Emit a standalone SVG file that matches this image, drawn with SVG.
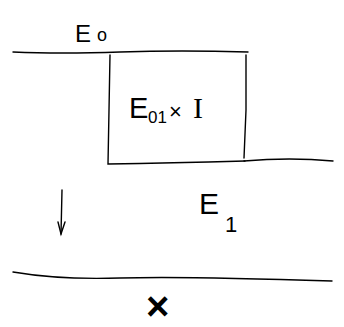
<svg xmlns="http://www.w3.org/2000/svg" width="344" height="327" viewBox="0 0 344 327">
<style>
.ln{fill:none;stroke:#000;stroke-width:1.4;stroke-linecap:round}
.t{font-family:"Liberation Sans","DejaVu Sans",sans-serif;fill:#000000;stroke:none}
</style>
<rect width="344" height="327" fill="#fff"/>
<g id="E0">
<path class="ln" d="M13 52 Q60 54 120 52 T248 52"/>
<text class="t" x="75" y="42" font-size="24" fill="#000">E<tspan x="97" font-size="18" dy="-1">o</tspan></text>
</g>
<g id="E01xI">
<path class="ln" d="M110 55 L109 110 L108 164 Q170 163 245 161"/>
<path class="ln" d="M246 55 L246 110 L244 158"/>
<path class="ln" d="M244 161 Q290 157 333 161"/>
<text class="t" x="129" y="118" font-size="29" fill="#000">E<tspan x="148" font-size="17" dy="5">01</tspan><tspan x="169" dy="-4" font-size="22">×</tspan><tspan x="193" dy="-1" font-family="Liberation Serif, serif" font-size="30">I</tspan></text>
</g>
<g id="E1">
<text class="t" x="199" y="214" font-size="30" fill="#000">E<tspan x="225" font-size="22" dy="18">1</tspan></text>
</g>
<g id="connectors">
<path class="ln" d="M62 190 L61 234"/>
<path class="ln" d="M58 222 L61 234 L65 222"/>
</g>
<g id="X">
<path class="ln" d="M13 272 Q60 280 120 278 T332 281"/>
<text class="t" x="146" y="320" font-size="40" font-weight="700" fill="#000">×</text>
</g>
</svg>
